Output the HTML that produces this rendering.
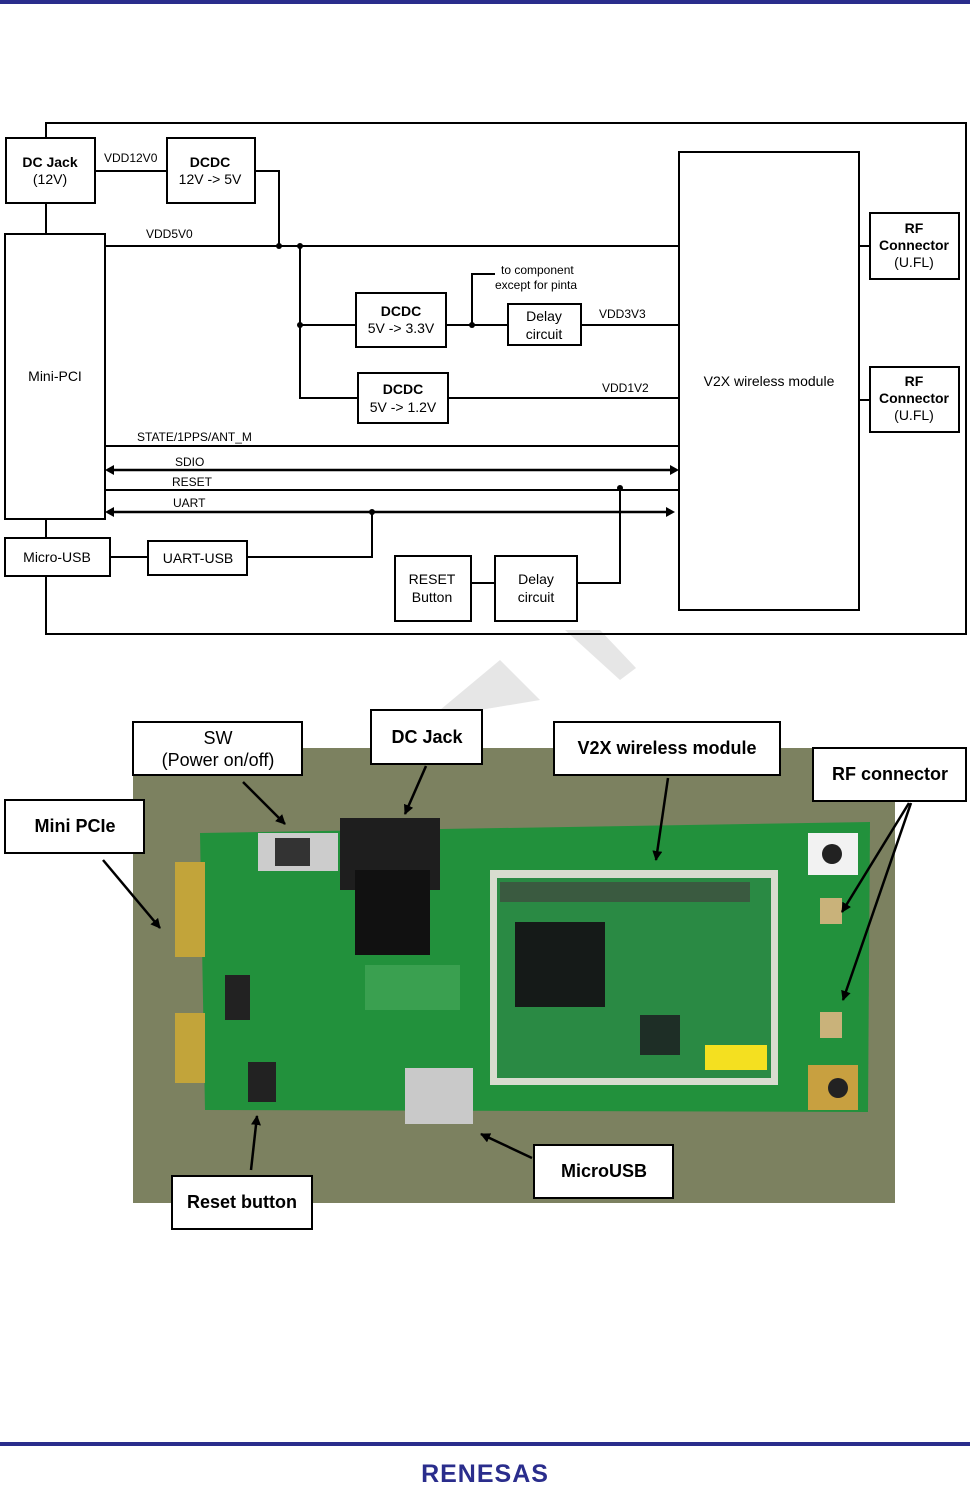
<!DOCTYPE html>
<html><head><meta charset="utf-8"><style>
html,body{margin:0;padding:0;background:#fff;}
svg{display:block;}
text{font-family:"Liberation Sans",sans-serif;fill:#000;}
</style></head><body>
<svg width="970" height="1488" viewBox="0 0 970 1488" xmlns="http://www.w3.org/2000/svg">
<defs>
<marker id="ah" viewBox="0 0 10 10" refX="9" refY="5" markerWidth="4" markerHeight="4" orient="auto"><path d="M0 0 L10 5 L0 10 Z" fill="#000"/></marker>
</defs>
<rect x="0" y="0" width="970" height="4" fill="#2a2d8c"/>
<path d="M440 710 L500 660 L540 700 L480 710 Z" fill="#e6e6e6"/>
<path d="M565 630 L600 630 L636 668 L620 680 Z" fill="#e6e6e6"/>
<g stroke="#000" stroke-width="2" fill="none">
<rect x="46" y="123" width="920" height="511"/>
</g>
<g stroke="#000" stroke-width="2" fill="#fff">
<rect x="6" y="138" width="89" height="65"/>
<rect x="167" y="138" width="88" height="65"/>
<rect x="5" y="234" width="100" height="285"/>
<rect x="356" y="293" width="90" height="54"/>
<rect x="508" y="304" width="73" height="41"/>
<rect x="358" y="373" width="90" height="50"/>
<rect x="679" y="152" width="180" height="458"/>
<rect x="870" y="213" width="89" height="66"/>
<rect x="870" y="367" width="89" height="65"/>
<rect x="5" y="538" width="105" height="38"/>
<rect x="148" y="541" width="99" height="34"/>
<rect x="395" y="556" width="76" height="65"/>
<rect x="495" y="556" width="82" height="65"/>
</g>
<g stroke="#000" stroke-width="2" fill="none">
<line x1="95" y1="171" x2="167" y2="171"/>
<polyline points="255,171 279,171 279,246"/>
<line x1="105" y1="246" x2="679" y2="246"/>
<polyline points="300,246 300,398 358,398"/>
<line x1="300" y1="325" x2="356" y2="325"/>
<line x1="446" y1="325" x2="508" y2="325"/>
<polyline points="472,325 472,274 495,274"/>
<line x1="581" y1="325" x2="679" y2="325"/>
<line x1="448" y1="398" x2="679" y2="398"/>
<line x1="105" y1="446" x2="679" y2="446"/>
<line x1="112" y1="470" x2="672" y2="470" stroke-width="2.5"/>
<line x1="105" y1="490" x2="679" y2="490"/>
<line x1="112" y1="512" x2="668" y2="512" stroke-width="2.5"/>
<polyline points="247,557 372,557 372,512"/>
<line x1="110" y1="557" x2="148" y2="557"/>
<line x1="471" y1="583" x2="495" y2="583"/>
<polyline points="577,583 620,583 620,488"/>
<line x1="859" y1="246" x2="870" y2="246"/>
<line x1="859" y1="400" x2="870" y2="400"/>
</g>
<g fill="#000">
<circle cx="279" cy="246" r="3"/><circle cx="300" cy="246" r="3"/><circle cx="300" cy="325" r="3"/>
<circle cx="472" cy="325" r="3"/><circle cx="372" cy="512" r="3"/><circle cx="620" cy="488" r="3"/>
<polygon points="105,470 114,465 114,475"/><polygon points="679,470 670,465 670,475"/>
<polygon points="105,512 114,507 114,517"/><polygon points="675,512 666,507 666,517"/>
</g>
<g font-size="14" font-weight="bold" text-anchor="middle">
<text x="50" y="167">DC Jack</text><text x="50" y="184" font-weight="normal">(12V)</text>
<text x="210" y="167">DCDC</text><text x="210" y="184" font-weight="normal">12V -&gt; 5V</text>
<text x="55" y="381" font-weight="normal">Mini-PCI</text>
<text x="401" y="316">DCDC</text><text x="401" y="333" font-weight="normal">5V -&gt; 3.3V</text>
<text x="544" y="321" font-weight="normal">Delay</text><text x="544" y="339" font-weight="normal">circuit</text>
<text x="403" y="394">DCDC</text><text x="403" y="412" font-weight="normal">5V -&gt; 1.2V</text>
<text x="769" y="386" font-weight="normal">V2X wireless module</text>
<text x="914" y="233">RF</text><text x="914" y="250">Connector</text><text x="914" y="267" font-weight="normal">(U.FL)</text>
<text x="914" y="386">RF</text><text x="914" y="403">Connector</text><text x="914" y="420" font-weight="normal">(U.FL)</text>
<text x="57" y="562" font-weight="normal">Micro-USB</text>
<text x="198" y="563" font-weight="normal">UART-USB</text>
<text x="432" y="584" font-weight="normal">RESET</text><text x="432" y="602" font-weight="normal">Button</text>
<text x="536" y="584" font-weight="normal">Delay</text><text x="536" y="602" font-weight="normal">circuit</text>
</g>
<g font-size="12">
<text x="104" y="162">VDD12V0</text>
<text x="146" y="238">VDD5V0</text>
<text x="501" y="274">to component</text><text x="495" y="289">except for pinta</text>
<text x="599" y="318">VDD3V3</text>
<text x="602" y="392">VDD1V2</text>
<text x="137" y="441">STATE/1PPS/ANT_M</text>
<text x="175" y="466">SDIO</text>
<text x="172" y="486">RESET</text>
<text x="173" y="507">UART</text>
</g>
<!-- photo -->
<rect x="133" y="748" width="762" height="455" fill="#7c8160"/>
<path d="M200 833 L870 822 L868 1112 L205 1110 Z" fill="#22913c"/>
<rect x="175" y="862" width="30" height="95" fill="#c2a43a"/>
<rect x="175" y="1013" width="30" height="70" fill="#c2a43a"/>
<rect x="490" y="870" width="288" height="215" fill="#d8dccf"/>
<rect x="497" y="878" width="274" height="200" fill="#2a8a44"/>
<rect x="500" y="882" width="250" height="20" fill="#3a5a40"/>
<rect x="515" y="922" width="90" height="85" fill="#151a18"/>
<rect x="640" y="1015" width="40" height="40" fill="#1e2e26"/>
<rect x="705" y="1045" width="62" height="25" fill="#f4e020"/>
<rect x="340" y="818" width="100" height="72" fill="#1e1e1e"/>
<rect x="355" y="870" width="75" height="85" fill="#111"/>
<rect x="258" y="833" width="80" height="38" fill="#ccc"/>
<rect x="275" y="838" width="35" height="28" fill="#333"/>
<rect x="365" y="965" width="95" height="45" fill="#3aa050"/>
<rect x="405" y="1068" width="68" height="56" fill="#c9c9c9"/>
<rect x="808" y="833" width="50" height="42" fill="#f2f2f2"/><circle cx="832" cy="854" r="10" fill="#222"/>
<rect x="808" y="1065" width="50" height="45" fill="#c8a040"/><circle cx="838" cy="1088" r="10" fill="#222"/>
<rect x="820" y="898" width="22" height="26" fill="#c9b27a"/>
<rect x="820" y="1012" width="22" height="26" fill="#c9b27a"/>
<rect x="248" y="1062" width="28" height="40" fill="#222"/>
<rect x="225" y="975" width="25" height="45" fill="#222"/>
<g stroke="#000" stroke-width="2" fill="#fff">
<rect x="133" y="722" width="169" height="53"/>
<rect x="371" y="710" width="111" height="54"/>
<rect x="554" y="722" width="226" height="53"/>
<rect x="813" y="748" width="153" height="53"/>
<rect x="5" y="800" width="139" height="53"/>
<rect x="534" y="1145" width="139" height="53"/>
<rect x="172" y="1176" width="140" height="53"/>
</g>
<g stroke="#000" stroke-width="2.5" fill="none" marker-end="url(#ah)">
<line x1="243" y1="782" x2="285" y2="824"/>
<line x1="426" y1="766" x2="405" y2="814"/>
<line x1="668" y1="778" x2="656" y2="860"/>
<line x1="909" y1="803" x2="842" y2="912"/>
<line x1="911" y1="803" x2="843" y2="1000"/>
<line x1="103" y1="860" x2="160" y2="928"/>
<line x1="532" y1="1158" x2="481" y2="1134"/>
<line x1="251" y1="1170" x2="257" y2="1116"/>
</g>
<g font-size="18" text-anchor="middle">
<text x="218" y="744">SW</text><text x="218" y="766">(Power on/off)</text>
<text x="427" y="743" font-weight="bold">DC Jack</text>
<text x="667" y="754" font-weight="bold">V2X wireless module</text>
<text x="890" y="780" font-weight="bold">RF connector</text>
<text x="75" y="832" font-weight="bold">Mini PCIe</text>
<text x="604" y="1177" font-weight="bold">MicroUSB</text>
<text x="242" y="1208" font-weight="bold">Reset button</text>
</g>
<rect x="0" y="1442" width="970" height="4" fill="#2a2d8c"/>
<text x="485" y="1482" font-size="25" font-weight="bold" text-anchor="middle" style="fill:#2a2d8c;letter-spacing:1px">RENESAS</text>
</svg>
</body></html>
